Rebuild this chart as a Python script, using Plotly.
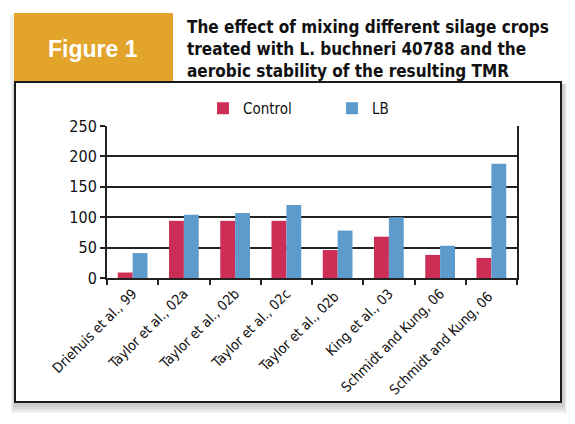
import plotly.graph_objects as go

categories = ["Driehuis et al., 99", "Taylor et al., 02a", "Taylor et al., 02b",
              "Taylor et al., 02c", "Taylor et al., 02b ", "King et al., 03",
              "Schmidt and Kung, 06", "Schmidt and Kung, 06 "]
control = [9, 94, 94, 94, 46, 68, 38, 33]
lb = [41, 104, 107, 120, 78, 100, 53, 188]
y_ticks = [0, 50, 100, 150, 200, 250]

W, H = 575, 424
L, R, T, B = 107, 517, 126, 278

def px(x):
    return (x - L) / (R - L)

def py(y):
    return (B - y) / (B - T)

FONT = "Liberation Sans Narrow, DejaVu Sans Condensed, Arial Narrow, sans-serif"

fig = go.Figure()
fig.add_trace(go.Bar(name="Control", x=categories, y=control, marker_color="#CC2E55",
                     marker_line_width=0))
fig.add_trace(go.Bar(name="LB", x=categories, y=lb, marker_color="#5C9BCB",
                     marker_line_width=0))

shapes = []
# shadow
for i, a in enumerate([0.05, 0.05, 0.05, 0.05]):
    d = i + 1
    shapes.append(dict(type="rect", xref="paper", yref="paper",
                       x0=px(15 - d), x1=px(561 + d + 2), y0=py(82 + 2), y1=py(402 + 3 + 2 * d),
                       line_width=0, fillcolor=f"rgba(0,0,0,{a})", layer="below"))
shapes.append(dict(type="rect", xref="paper", yref="paper",
                   x0=px(15), x1=px(561), y0=py(82), y1=py(402),
                   line=dict(color="#1a1a1a", width=2), fillcolor="white", layer="below"))
shapes.append(dict(type="rect", xref="paper", yref="paper",
                   x0=px(10), x1=px(14), y0=py(15), y1=py(84),
                   line_width=0, fillcolor="rgba(0,0,0,0.06)", layer="below"))
shapes.append(dict(type="rect", xref="paper", yref="paper",
                   x0=px(14), x1=px(173), y0=py(13), y1=py(81),
                   line_width=0, fillcolor="#E2A42B", layer="below"))

annotations = [
    dict(text="<b>Figure 1</b>", xref="paper", yref="paper", x=px(93), y=py(49),
         showarrow=False, font=dict(family="Liberation Sans, Arial, sans-serif", size=23, color="white"),
         xanchor="center", yanchor="middle"),
    dict(text="<b>The effect of mixing different silage crops<br>treated with L. buchneri 40788 and the<br>aerobic stability of the resulting TMR</b>",
         xref="paper", yref="paper", x=px(185), y=py(15), showarrow=False, align="left",
         xanchor="left", yanchor="top",
         font=dict(family=FONT, size=17, color="#111111")),
]

fig.update_layout(
    width=W, height=H,
    margin=dict(l=L, r=W - R, t=T, b=H - B, pad=0),
    paper_bgcolor="white", plot_bgcolor="rgba(0,0,0,0)",
    barmode="group", bargap=0.42, bargroupgap=0,
    shapes=shapes, annotations=annotations,
    showlegend=True,
    legend=dict(orientation="h", x=px(203), y=py(92), xanchor="left", yanchor="top",
                font=dict(family=FONT, size=15, color="#111"),
                entrywidth=84, entrywidthmode="pixels", itemwidth=30,
                bgcolor="rgba(0,0,0,0)", traceorder="normal"),
    font=dict(family=FONT, size=15, color="#111"),
    xaxis=dict(showline=True, linecolor="#222", linewidth=2, ticks="outside",
               tickson="boundaries", ticklen=5, tickwidth=2, tickcolor="#222",
               tickangle=-45, tickfont=dict(family=FONT, size=14, color="#111"),
               showgrid=False),
    yaxis=dict(range=[0, 250], tickvals=y_ticks, showline=True, linecolor="#222",
               linewidth=2, mirror=True, ticks="outside", ticklen=5, tickwidth=2,
               tickcolor="#222", showgrid=True, gridcolor="#222", gridwidth=2,
               zeroline=False, tickfont=dict(family=FONT, size=16, color="#111")),
)

fig.write_html("out.html")
